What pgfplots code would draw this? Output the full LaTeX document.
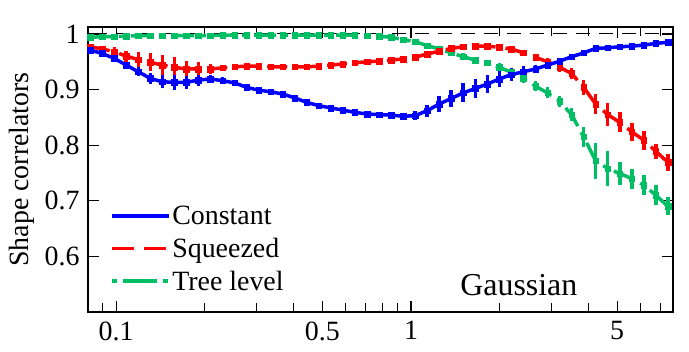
\documentclass[border=0pt]{standalone}
\usepackage{pgfplots}
\pgfplotsset{compat=1.18}
\usepackage{pgfplotstable}
\usepackage{fontspec}
\setmainfont{Liberation Serif}
\definecolor{cblue}{RGB}{0,0,255}
\definecolor{cred}{RGB}{255,0,0}
\definecolor{cgreen}{RGB}{0,190,100}
\pgfplotstableread{
x b eb r er g eg
0.0816 0.971 0.003 0.977 0.005 0.994 0.003
0.0897 0.965 0.003 0.973 0.006 0.995 0.003
0.0986 0.956 0.004 0.968 0.008 0.995 0.003
0.1082 0.944 0.006 0.960 0.010 0.996 0.003
0.1189 0.932 0.008 0.954 0.013 0.997 0.003
0.1306 0.920 0.010 0.949 0.016 0.997 0.003
0.1435 0.914 0.012 0.944 0.018 0.997 0.003
0.1576 0.913 0.013 0.940 0.018 0.997 0.003
0.1731 0.913 0.012 0.937 0.015 0.997 0.003
0.1902 0.917 0.010 0.937 0.012 0.997 0.003
0.2089 0.919 0.008 0.937 0.009 0.997 0.003
0.2295 0.916 0.006 0.939 0.006 0.998 0.003
0.2521 0.912 0.005 0.941 0.005 0.998 0.003
0.2769 0.904 0.004 0.942 0.004 0.998 0.003
0.3042 0.899 0.004 0.942 0.004 0.998 0.003
0.3342 0.896 0.004 0.941 0.004 0.998 0.003
0.3671 0.892 0.004 0.941 0.004 0.998 0.003
0.4033 0.885 0.004 0.941 0.004 0.998 0.003
0.4430 0.877 0.004 0.941 0.004 0.998 0.003
0.4867 0.871 0.004 0.942 0.004 0.998 0.003
0.5346 0.867 0.004 0.944 0.004 0.998 0.003
0.5873 0.863 0.004 0.946 0.004 0.998 0.003
0.6451 0.859 0.004 0.948 0.004 0.998 0.003
0.7087 0.856 0.004 0.950 0.004 0.997 0.003
0.7785 0.855 0.004 0.951 0.004 0.996 0.003
0.8552 0.854 0.005 0.953 0.004 0.994 0.003
0.9396 0.852 0.006 0.955 0.004 0.990 0.004
1.032 0.853 0.008 0.958 0.004 0.986 0.004
1.134 0.862 0.011 0.964 0.004 0.979 0.005
1.246 0.874 0.014 0.969 0.004 0.973 0.005
1.368 0.884 0.016 0.974 0.004 0.966 0.005
1.503 0.894 0.017 0.977 0.004 0.959 0.006
1.651 0.902 0.017 0.978 0.004 0.953 0.006
1.814 0.910 0.016 0.978 0.004 0.948 0.006
1.992 0.919 0.014 0.976 0.004 0.940 0.007
2.189 0.927 0.012 0.973 0.005 0.931 0.007
2.404 0.932 0.010 0.966 0.005 0.920 0.008
2.642 0.937 0.008 0.958 0.006 0.906 0.009
2.902 0.944 0.006 0.950 0.007 0.894 0.010
3.188 0.951 0.005 0.940 0.008 0.879 0.010
3.502 0.959 0.005 0.929 0.010 0.855 0.012
3.847 0.966 0.005 0.904 0.013 0.815 0.018
4.226 0.974 0.005 0.874 0.018 0.772 0.032
4.643 0.975 0.004 0.855 0.020 0.758 0.032
5.100 0.977 0.004 0.841 0.018 0.749 0.021
5.603 0.978 0.004 0.824 0.016 0.740 0.018
6.155 0.980 0.004 0.809 0.017 0.728 0.018
6.761 0.983 0.004 0.789 0.014 0.710 0.018
7.428 0.985 0.004 0.769 0.016 0.690 0.016
}\data
\begin{document}
\begin{tikzpicture}
\begin{axis}[
  scale only axis, width=585bp, height=285bp,
  xmode=log, log basis x=10,
  xmin=0.0803, xmax=7.73, ymin=0.5, ymax=1.0125,
  axis line style={line width=1.2bp},
  every tick/.style={line width=1.2bp, black},
  major tick length=11bp, minor tick length=9bp,
  tick align=inside,
  xtick={0.1,0.5,1,5}, xticklabels={\textrm{0.1},\textrm{0.5},\textrm{1},\textrm{5}},
  minor xtick={0.08,0.09,0.2,0.3,0.4,0.6,0.7,0.8,0.9,2,3,4,6,7},
  ytick={0.6,0.7,0.8,0.9,1}, yticklabels={\textrm{0.6},\textrm{0.7},\textrm{0.8},\textrm{0.9},\textrm{1}},
  /pgf/number format/assume math mode=true,
  tick label style={font=\fontsize{28}{30}\selectfont},
  xticklabel style={yshift=-6bp},
  yticklabel style={xshift=-5bp},
  ylabel={Shape correlators},
  ylabel style={font=\fontsize{28}{30}\selectfont, at={(axis description cs:-0.113,0.5)}, anchor=center},
  legend style={draw=none, fill=none, at={(0.037,0.38)}, anchor=north west,
    font=\fontsize{28}{30}\selectfont, inner sep=0pt, row sep=8bp,
    legend cell align=left},
  legend image code/.code={\draw[#1] (0bp,0bp) -- (57bp,0bp);},
]
\addplot[black, line width=1bp, dash pattern=on 14bp off 9bp, forget plot] coordinates {(0.07,1) (9,1)};
\addplot[forget plot, cgreen, line width=3.5bp, dash pattern=on 22bp off 7bp on 5bp off 7bp,
  mark=square*, mark size=2.8bp, mark options={solid, line width=0.4bp},
  error bars/.cd, y dir=both, y explicit, error mark=none,
  error bar style={solid, line width=3.5bp}]
  table[x=x, y=g, y error=eg]{\data};
\addplot[forget plot, cred, line width=3.5bp, dash pattern=on 20bp off 10bp,
  mark=square*, mark size=2.8bp, mark options={solid, line width=0.4bp},
  error bars/.cd, y dir=both, y explicit, error mark=none,
  error bar style={solid, line width=3.5bp}]
  table[x=x, y=r, y error=er]{\data};
\addplot[forget plot, cblue, line width=3.5bp, solid,
  mark=square*, mark size=2.8bp, mark options={solid, line width=0.4bp},
  error bars/.cd, y dir=both, y explicit, error mark=none,
  error bar style={solid, line width=3.5bp}]
  table[x=x, y=b, y error=eb]{\data};
\addlegendimage{cblue, line width=3.5bp}
\addlegendentry{Constant}
\addlegendimage{cred, line width=3.5bp, dash pattern=on 22bp off 10bp}
\addlegendentry{Squeezed}
\addlegendimage{cgreen, line width=3.5bp, dash pattern=on 5bp off 6bp on 34bp off 6bp}
\addlegendentry{Tree level}
\node[font=\fontsize{32}{34}\selectfont, anchor=base] at (axis cs:2.32,0.53) {Gaussian};
\end{axis}
\pgfresetboundingbox
\path (-88bp,-40bp) rectangle (601bp,312bp);
\end{tikzpicture}
\end{document}
